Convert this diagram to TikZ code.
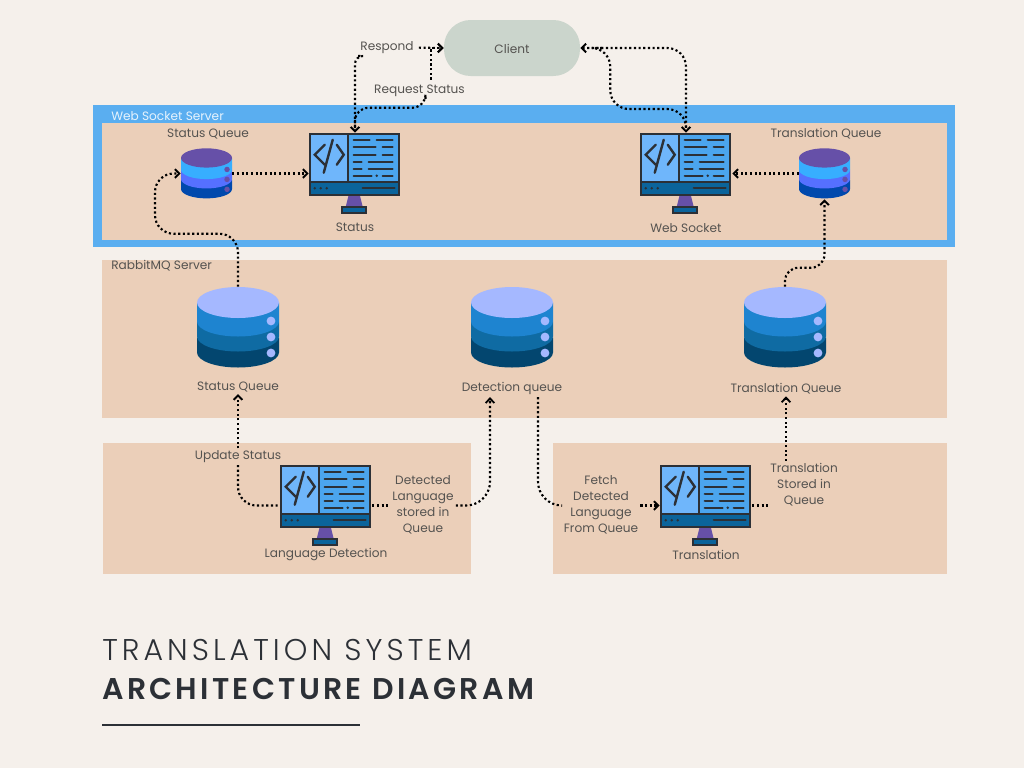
\documentclass[tikz,border=0pt]{standalone}
\usepackage{fontspec}
\setmainfont{Poppins}
\newfontfamily\titlelight[LetterSpace=13.5]{Poppins Light}
\newfontfamily\titlebold[LetterSpace=11]{Poppins SemiBold}
\usetikzlibrary{%
  arrows.meta,%
  positioning,%
  calc%
}
\definecolor{paper}{HTML}{F5F0EB}
\definecolor{peach}{HTML}{EBCFB9}
\definecolor{wsblue}{HTML}{5AAEF0}
\definecolor{clientgreen}{HTML}{CBD5CC}
\definecolor{inkgray}{HTML}{555350}
\definecolor{inkdark}{HTML}{2C3036}
\definecolor{screenA}{HTML}{6FB6FB}
\definecolor{screenB}{HTML}{4BA5EE}
\definecolor{barblue}{HTML}{0B649B}
\definecolor{neck}{HTML}{6650A8}
\definecolor{smallA}{HTML}{37AEFF}
\definecolor{smallB}{HTML}{5570FF}
\definecolor{smallC}{HTML}{0049AD}
\definecolor{bigtop}{HTML}{A5B8FF}
\definecolor{bigA}{HTML}{1E84D0}
\definecolor{bigB}{HTML}{0F6BA3}
\definecolor{bigC}{HTML}{03466F}

\tikzset{
  pics/monitor/.style={code={
    \fill[neck] (40,62) -- (51,62) -- (54,74) -- (37,74) -- cycle;
    \draw[inkdark, line width=1.8pt, fill=barblue] (33.5,74) rectangle (57.5,80);
    \draw[inkdark, line width=1.8pt, fill=screenA] (1.5,1.5) rectangle (39,49);
    \draw[inkdark, line width=1.8pt, fill=screenB] (39,1.5) rectangle (90.5,49);
    \draw[inkdark, line width=1.8pt, fill=barblue] (1.5,49) rectangle (90.5,62);
    \draw[inkdark, line width=1.8pt, line cap=round]
      (16,12) -- (6,22) -- (16,32) (24,7) -- (15,40) (28,12) -- (35,22) -- (28,32);
    \draw[inkdark, line width=1.5pt, line cap=round]
      (45,7) -- (61,7) (68,7) -- (84,7)
      (45,14.5) -- (67,14.5) (74,14.5) -- (84,14.5)
      (45,22) -- (67,22) (74,22) -- (84,22)
      (45,29) -- (53,29) (60,29) -- (84,29)
      (45,36.5) -- (53,36.5) (60,36.5) -- (84,36.5)
      (45,43) -- (63,43) (74,43) -- (84,43)
      (54,55.5) -- (86,55.5);
    \fill[inkdark] (68,43) circle (1.3) (6,55.5) circle (1.3) (12,55.5) circle (1.3) (18,55.5) circle (1.3);
  }},
  pics/dbstack/.style n args={5}{code={
    % drawn from the bottom band up, origin at the centre
    \fill[#4] (-41,10) -- (-41,25) arc[start angle=180, end angle=0, x radius=41, y radius=15] -- (41,10) -- cycle;
    \fill[#3] (-41,-6) -- (-41,9) arc[start angle=180, end angle=0, x radius=41, y radius=15] -- (41,-6) -- cycle;
    \fill[#2] (-41,-25) -- (-41,-6) arc[start angle=180, end angle=0, x radius=41, y radius=15] -- (41,-25) -- cycle;
    \fill[#1] (0,-25) ellipse[x radius=41, y radius=15.5];
    \fill[#5] (33,-6.5) circle (4.4) (33,9.5) circle (4.4) (33,25.5) circle (4.4);
  }}
}

\begin{document}
\begin{tikzpicture}
[x=0.75pt, y=-0.75pt, >={Straight Barb[length=3.4pt,width=6.5pt,line width=1.4pt]},
flow/.style={line width=1.6pt, black, dash pattern=on 1.6pt off 1.9pt, rounded corners=10pt},
label/.style={inner sep=1.5pt, yshift=-0.5pt, font=\fontsize{9.1}{12}\selectfont, text=inkgray, align=center},
iconbox/.style={rectangle, inner sep=0pt, minimum width=69pt, minimum height=60.75pt},
dbbig/.style={rectangle, inner sep=0pt, minimum width=61.5pt, minimum height=60.75pt},
dbsmall/.style={rectangle, inner sep=0pt, minimum width=38.25pt, minimum height=38.25pt}]

% panels
\fill[paper] (0,0) rectangle (1024,768);
\fill[wsblue] (93,105) rectangle (955,247);
\fill[peach] (102,123) rectangle (947,240);
\fill[peach] (102,260) rectangle (947,418);
\fill[peach] (103,443) rectangle (471,574);
\fill[peach] (553,443) rectangle (947,574);

\node[rectangle, inner sep=0pt, minimum width=102pt, minimum height=42pt, rounded corners=20pt, fill=clientgreen] (client) at (512,48) {};
\node[label] (clienttext) at (client.center) {Client};

\node[label, anchor=west, text=white!85!wsblue] (wstitle) at (109,115) {Web Socket Server};
\node[label, anchor=west] (mqtitle) at (109,265) {RabbitMQ Server};

% monitors
\node[iconbox] (status) at (355,173.5) {};
\node[iconbox] (websocket) at (686,173.5) {};
\node[iconbox] (language) at (326,505.5) {};
\node[iconbox] (translation) at (706,505.5) {};
\pic at (status.north west) {monitor};
\pic at (websocket.north west) {monitor};
\pic at (language.north west) {monitor};
\pic at (translation.north west) {monitor};

% queues in the web socket server
\node[dbsmall] (statusq) at (206.5,173.5) {};
\node[dbsmall] (transq) at (824.5,173.5) {};
\pic[scale=0.622] at (statusq) {dbstack={neck}{smallA}{smallB}{smallC}{neck}};
\pic[scale=0.622] at (transq) {dbstack={neck}{smallA}{smallB}{smallC}{neck}};

% queues in rabbitmq
\node[dbbig] (mqstatus) at (238,327.5) {};
\node[dbbig] (mqdetect) at (512,327.5) {};
\node[dbbig] (mqtrans) at (785,327.5) {};
\pic at (mqstatus) {dbstack={bigtop}{bigA}{bigB}{bigC}{bigtop}};
\pic at (mqdetect) {dbstack={bigtop}{bigA}{bigB}{bigC}{bigtop}};
\pic at (mqtrans) {dbstack={bigtop}{bigA}{bigB}{bigC}{bigtop}};

% labels
\node[label] (respond) at (387,47) {Respond};
\node[label] (request) at (419.5,90) {Request Status};
\node[label] (statusqtext) at (208,133) {Status Queue};
\node[label] (transqtext) at (826,133) {Translation Queue};
\node[label] (statustext) at (355,227) {Status};
\node[label] (websockettext) at (686,227) {Web Socket};
\node[label] (mqstatustext) at (238,386) {Status Queue};
\node[label] (mqdetecttext) at (512,388) {Detection queue};
\node[label] (mqtranstext) at (786,388) {Translation Queue};
\node[label] (update) at (238,456) {Update Status};
\node[label] (languagetext) at (326,554) {Language Detection};
\node[label] (translationtext) at (706,554) {Translation};
\node[label] (detected) at (423,504) {Detected\\Language\\stored in\\Queue};
\node[label] (fetch) at (601,504) {Fetch\\Detected\\Language\\From Queue};
\node[label] (stored) at (804,484) {Translation\\Stored in\\Queue};

% title
\node[anchor=base west, inner sep=0pt, text=inkdark, font=\fontsize{22.5}{26}\titlelight] (titleA) at (102,660) {TRANSLATION SYSTEM};
\node[anchor=base west, inner sep=0pt, text=inkdark, font=\fontsize{22.5}{26}\titlebold] (titleB) at (102,699) {ARCHITECTURE DIAGRAM};
\coordinate (ruleA) at (102,725);
\coordinate (ruleB) at (360,725);
\draw[inkdark, line width=0.9pt] (ruleA) -- (ruleB);

% connectors
\draw[flow,->] ([shift={(3,0)}]respond.east) -- (client.west);
\draw[flow,->,rounded corners=6pt] (respond.south west) -| (status.north);
\draw[flow,->,rounded corners=0pt] ([shift={(11.5,-3)}]request.north) |- (client.west);
\draw[flow] ([shift={(6,0)}]request.south) -- ++(0,9) -| ([shift={(0,-3)}]status.north);
\draw[flow,<->,rounded corners=14pt] (client.east) -| (websocket.north);
\draw[flow,rounded corners=14pt] ([shift={(22,0)}]client.east) -- ++(8,0) -- ++(0,61) -| ([shift={(0,-3)}]websocket.north);

\draw[flow,->] (statusq.east) -- (statusq.east -| status.west);
\draw[flow,->] (transq.west) -- (transq.west -| websocket.east);
\draw[flow,->,rounded corners=14pt] (mqstatus.north) -- ++(0,-53) -- ++(-83,0) |- (statusq.west);
\draw[flow,->] (mqtrans.north) -- ++(0,-19) -| (transq.south);

\draw[flow,->] (update.north) -- (mqstatustext.south);
\draw[flow,rounded corners=14pt] (update.south) |- (language.west);
\draw[flow] (language.east) -- (language.east -| detected.west);
\draw[flow,->,rounded corners=18pt] (language.east -| detected.east) -| ([shift={(-22,0)}]mqdetecttext.south);
\draw[flow,rounded corners=18pt] ([shift={(26,0)}]mqdetecttext.south) |- (translation.west -| fetch.west);
\draw[flow,->] (translation.west -| fetch.east) -- (translation.west);
\draw[flow] (translation.east) -- (translation.east -| stored.west);
\draw[flow,->] (stored.north -| mqtranstext.south) -- (mqtranstext.south);

\end{tikzpicture}
\end{document}
